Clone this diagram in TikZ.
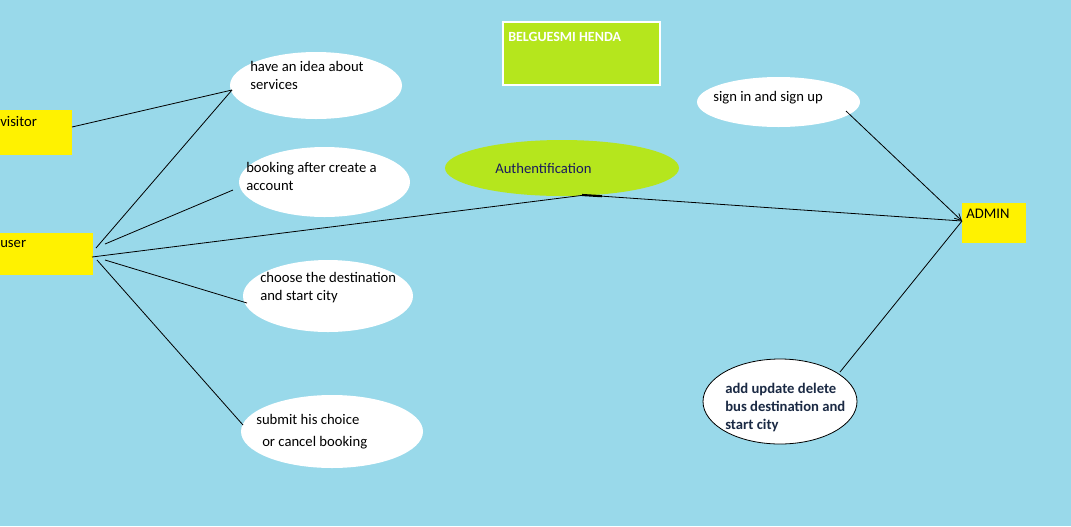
\documentclass[tikz,border=0pt]{standalone}
\usepackage{fontspec}
\setmainfont{Carlito}
\usetikzlibrary{shapes.geometric,arrows.meta}
\definecolor{bgblue}{HTML}{99D9EA}
\definecolor{actyel}{HTML}{FFF200}
\definecolor{lime}{HTML}{B5E61D}
\definecolor{navy}{HTML}{1A1A5E}
\definecolor{darkblue}{HTML}{1B2A44}
\tikzset{
  actor/.style={fill=actyel, draw=none, rectangle, inner sep=0pt},
  uc/.style={ellipse, fill=white, draw=none, inner sep=0pt},
  lbl/.style={anchor=north west, inner sep=0pt, font=\fontsize{11pt}{13.5pt}\selectfont, align=left},
  conn/.style={draw=black, line width=0.6pt},
}
\begin{document}
\begin{tikzpicture}[x=0.75pt,y=-0.75pt]
\fill[bgblue] (0,0) rectangle (1071,526);
\useasboundingbox (0,0) rectangle (1071,526);

% actors
\node[actor, minimum width=72*0.75pt, minimum height=45*0.75pt] (visitor) at (36,132.5) {};
\node[lbl] (visitorT) at (0,116.5) {visitor};
\node[actor, minimum width=93*0.75pt, minimum height=42*0.75pt] (user) at (46.5,254) {};
\node[lbl] (userT) at (0,240.5) {user};
\node[actor, minimum width=64*0.75pt, minimum height=40*0.75pt] (admin) at (994,223) {};
\node[lbl] (adminT) at (966,208.5) {ADMIN};

% title box
\node[rectangle, fill=lime, draw=white, line width=0.8pt, minimum width=157*0.75pt, minimum height=63*0.75pt, inner sep=0pt] (title) at (581.5,53.5) {};
\node[lbl, text=white, font=\fontsize{10.5pt}{12pt}\selectfont\bfseries] (titleT) at (508,32) {BELGUESMI HENDA};

% use cases
\node[uc, minimum width=172*0.75pt, minimum height=67*0.75pt] (e1) at (316,85.5) {};
\node[lbl] (e1T) at (250,61.5) {have an idea about\\services};
\node[uc, minimum width=171*0.75pt, minimum height=70*0.75pt] (e2) at (324.5,182) {};
\node[lbl] (e2T) at (246,162.5) {booking after create a\\account};
\node[uc, minimum width=170*0.75pt, minimum height=72*0.75pt] (e3) at (328,296) {};
\node[lbl] (e3T) at (260,272.5) {choose the destination\\and start city};
\node[uc, minimum width=182*0.75pt, minimum height=73*0.75pt] (e4) at (332,431.5) {};
\node[lbl] (e4Ta) at (256,414.5) {submit his choice};
\node[lbl] (e4Tb) at (262,436.5) {or cancel booking};

\node[ellipse, fill=lime, draw=none, inner sep=0pt, minimum width=234*0.75pt, minimum height=56*0.75pt] (auth) at (562,168) {};
\node[lbl, text=navy] (authT) at (495,163.5) {Authentification};

\node[uc, minimum width=163*0.75pt, minimum height=50*0.75pt] (e5) at (778.5,102) {};
\node[lbl] (e5T) at (713,91.5) {sign in and sign up};
\node[ellipse, fill=white, draw=black, line width=0.6pt, inner sep=0pt, minimum width=154*0.75pt, minimum height=85*0.75pt] (e6) at (780,401.5) {};
\node[lbl, font=\fontsize{11pt}{13.5pt}\selectfont\bfseries, text=darkblue] (e6T) at (725,382.5) {add update delete\\bus destination and\\start city};

% anchor points
\coordinate (vA) at (72,127);
\coordinate (uA) at (96,248);
\coordinate (uB) at (105,244);
\coordinate (uC) at (92,257);
\coordinate (uD) at (105,260);
\coordinate (uE) at (97,260);
\coordinate (aS) at (585,195);
\coordinate (adA) at (962,221);
\coordinate (e5A) at (846,111);
\coordinate (e6A) at (840,372);
\coordinate (e1A) at (232,90);
\coordinate (e2A) at (233,190);
\coordinate (e3A) at (247,303);
\coordinate (e4A) at (243,425);

% connectors
\draw[conn] (vA) -- (e1A);
\draw[conn] (uA) -- (e1A);
\draw[conn] (uB) -- (e2A);
\draw[conn] (uC) -- (aS) -- (adA);
\draw[line width=1.6pt] (aS) ++(-3,0) -- ++(20,1.2);
\draw[conn] (uD) -- (e3A);
\draw[conn] (uE) -- (e4A);
\draw[conn, -{Straight Barb[length=5pt,width=5pt]}] (e5A) -- (adA);
\draw[conn] (e6A) -- (adA);
\end{tikzpicture}
\end{document}
